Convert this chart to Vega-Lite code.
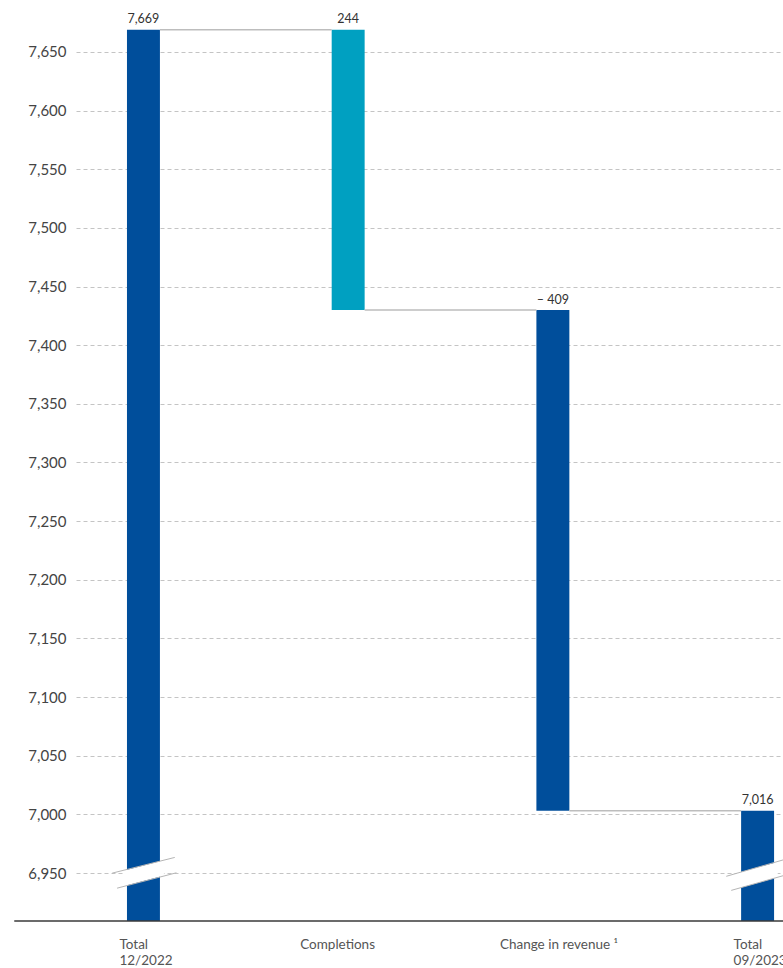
{
  "$schema": "https://vega.github.io/schema/vega-lite/v6.json",
  "autosize": {"type": "none"},
  "padding": {"left": 76, "top": 0, "right": 0, "bottom": 47},
  "width": 707,
  "height": 921,
  "background": "white",
  "config": {"view": {"stroke": null}, "font": "Lato"},
  "datasets": {
    "bars": [
      {"cat": "Total 12/2022", "kind": "Total", "lo": 0, "hi": 7669, "label": "7,669"},
      {"cat": "Completions", "kind": "Completions", "lo": 7430, "hi": 7669, "label": "244"},
      {"cat": "Change in revenue ¹", "kind": "Change", "lo": 7003, "hi": 7430, "label": "– 409"},
      {"cat": "Total 09/2023", "kind": "Total", "lo": 0, "hi": 7003, "label": "7,016"}
    ],
    "connectors": [
      {"from": "Total 12/2022", "to": "Completions", "level": 7669},
      {"from": "Completions", "to": "Change in revenue ¹", "level": 7430},
      {"from": "Change in revenue ¹", "to": "Total 09/2023", "level": 7003}
    ],
    "breaks": [
      {"cat": "Total 12/2022", "u1": 6949.9, "u2": 6963.3, "l1": 6937.1, "l2": 6950.2, "w1": 6945.6, "w2": 6954.1},
      {"cat": "Total 09/2023", "u1": 6947.2, "u2": 6962.6, "l1": 6935.2, "l2": 6949.5, "w1": 6943.6, "w2": 6952.7}
    ]
  },
  "layer": [
    {
      "data": {"name": "bars"},
      "mark": {"type": "bar"},
      "encoding": {
        "x": {
          "field": "cat",
          "type": "nominal",
          "sort": null,
          "title": null,
          "scale": {
            "domain": ["Total 12/2022", "Completions", "Change in revenue ¹", "Total 09/2023"],
            "paddingInner": 0.839,
            "paddingOuter": 0.1463,
            "align": 0.851
          },
          "axis": {
            "title": null,
            "domain": false,
            "ticks": false,
            "tickSize": 0,
            "labelPadding": 16,
            "labelAngle": 0,
            "labelAlign": "left",
            "labelFont": "Lato",
            "labelFontSize": 13.5,
            "labelLineHeight": 16,
            "labelColor": "#555555",
            "labelOverlap": false,
            "labelBound": false,
            "labelFlush": false,
            "labelExpr": "test(/^Total/, datum.value) ? split(datum.value, ' ') : datum.value",
            "labelOffset": {
              "condition": [
                {"test": "datum.value === 'Completions'", "value": -48},
                {"test": "indexof(datum.value, 'Change') === 0", "value": -53}
              ],
              "value": -24
            }
          }
        },
        "y": {
          "field": "hi",
          "type": "quantitative",
          "title": null,
          "scale": {"domain": [6909.1, 7694.3], "zero": false, "nice": false, "clamp": true},
          "axis": {
            "title": null,
            "domain": false,
            "ticks": false,
            "tickSize": 0,
            "labelPadding": 10,
            "labelFont": "Lato",
            "labelFontSize": 15,
            "labelColor": "#444444",
            "format": ",.0f",
            "labelExpr": "format(datum.value, ',.0f')",
            "values": [6950, 7000, 7050, 7100, 7150, 7200, 7250, 7300, 7350, 7400, 7450, 7500, 7550, 7600, 7650],
            "grid": true,
            "gridColor": "#c4c4c4",
            "gridDash": [4, 3],
            "gridWidth": 1
          }
        },
        "y2": {"field": "lo"},
        "color": {
          "field": "kind",
          "type": "nominal",
          "scale": {"domain": ["Total", "Completions", "Change"], "range": ["#004e9b", "#00a0c1", "#004e9b"]},
          "legend": null
        }
      }
    },
    {
      "data": {"name": "connectors"},
      "mark": {"type": "rule", "color": "#bdbdbd", "strokeWidth": 1.5},
      "encoding": {
        "x": {"field": "from", "type": "nominal", "bandPosition": 1, "sort": null, "title": null},
        "x2": {"field": "to", "bandPosition": 0},
        "y": {"field": "level", "type": "quantitative", "title": null}
      }
    },
    {
      "data": {"name": "breaks"},
      "mark": {"type": "rule", "color": "white", "strokeWidth": 15, "strokeCap": "butt"},
      "encoding": {
        "x": {"field": "cat", "type": "nominal", "bandPosition": -0.08, "sort": null, "title": null},
        "x2": {"field": "cat", "bandPosition": 1.08},
        "y": {"field": "w1", "type": "quantitative", "title": null},
        "y2": {"field": "w2"}
      }
    },
    {
      "data": {"name": "breaks"},
      "mark": {"type": "rule", "color": "#b5b5b5", "strokeWidth": 1},
      "encoding": {
        "x": {"field": "cat", "type": "nominal", "bandPosition": -0.45, "sort": null, "title": null},
        "x2": {"field": "cat", "bandPosition": 1.45},
        "y": {"field": "u1", "type": "quantitative", "title": null},
        "y2": {"field": "u2"}
      }
    },
    {
      "data": {"name": "breaks"},
      "mark": {"type": "rule", "color": "#b5b5b5", "strokeWidth": 1},
      "encoding": {
        "x": {"field": "cat", "type": "nominal", "bandPosition": -0.3, "sort": null, "title": null},
        "x2": {"field": "cat", "bandPosition": 1.5},
        "y": {"field": "l1", "type": "quantitative", "title": null},
        "y2": {"field": "l2"}
      }
    },
    {
      "data": {"name": "bars"},
      "mark": {"type": "text", "font": "Lato", "fontSize": 12.5, "color": "#333333", "baseline": "alphabetic", "dy": -6.5},
      "encoding": {
        "x": {"field": "cat", "type": "nominal", "sort": null, "title": null},
        "y": {"field": "hi", "type": "quantitative", "title": null},
        "text": {"field": "label"}
      }
    },
    {
      "data": {"values": [{}]},
      "mark": {"type": "rule", "color": "#3a3a3a", "strokeWidth": 1.5},
      "encoding": {
        "x": {"datum": "Total 12/2022", "type": "nominal", "bandPosition": -3.42, "title": null},
        "x2": {"datum": "Total 09/2023", "bandPosition": 2},
        "y": {"datum": 6909.1, "type": "quantitative", "title": null}
      }
    }
  ]
}
